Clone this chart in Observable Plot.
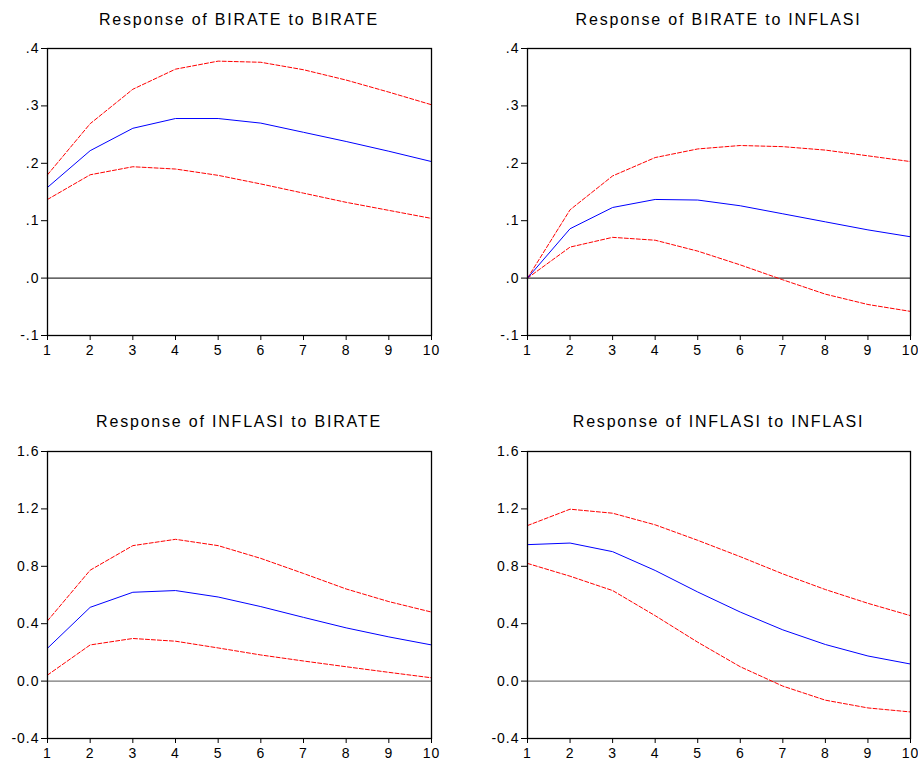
<!DOCTYPE html>
<html><head><meta charset="utf-8">
<script src="https://cdn.jsdelivr.net/npm/d3@7"></script>
<script src="https://cdn.jsdelivr.net/npm/@observablehq/plot@0.6"></script>
<style>
body{margin:0;background:#fff;}
#wrap{position:relative;width:918px;height:762px;overflow:hidden;background:#fff;font-family:"Liberation Sans",Arial,sans-serif;}
.panel{position:absolute;width:459px;height:381px;overflow:hidden;}
.panel svg{position:absolute;left:0;top:0;}
.title{position:absolute;font-size:16px;letter-spacing:1.8px;text-align:center;line-height:18px;color:#000;white-space:nowrap;}
svg text{letter-spacing:1px;}
</style></head><body><div id="wrap"></div>
<script>
const steps = [1,2,3,4,5,6,7,8,9,10];
const topTicks = [-0.1,0,0.1,0.2,0.3,0.4];
const topTickLabels = ["-.1",".0",".1",".2",".3",".4"];
const bottomTicks = [-0.4,0,0.4,0.8,1.2,1.6];
const bottomTickLabels = ["-0.4","0.0","0.4","0.8","1.2","1.6"];
const titles = ["Response of BIRATE to BIRATE","Response of BIRATE to INFLASI","Response of INFLASI to BIRATE","Response of INFLASI to INFLASI"];

const birBirResp  = [0.158,0.222,0.261,0.278,0.278,0.270,0.254,0.238,0.221,0.203];
const birBirUpper = [0.180,0.269,0.329,0.364,0.378,0.376,0.363,0.345,0.324,0.302];
const birBirLower = [0.137,0.180,0.194,0.190,0.179,0.164,0.148,0.132,0.118,0.104];

const birInfResp  = [0.000,0.086,0.123,0.137,0.136,0.126,0.112,0.098,0.084,0.072];
const birInfUpper = [0.000,0.119,0.178,0.210,0.225,0.231,0.229,0.223,0.213,0.203];
const birInfLower = [0.000,0.054,0.071,0.066,0.047,0.023,-0.003,-0.028,-0.046,-0.058];

const infBirResp  = [0.229,0.514,0.619,0.631,0.586,0.519,0.444,0.371,0.308,0.252];
const infBirUpper = [0.420,0.773,0.944,0.988,0.944,0.855,0.750,0.642,0.554,0.481];
const infBirLower = [0.042,0.252,0.297,0.278,0.231,0.182,0.140,0.100,0.061,0.023];

const infInfResp  = [0.951,0.962,0.902,0.771,0.621,0.481,0.357,0.255,0.175,0.119];
const infInfUpper = [1.084,1.198,1.170,1.089,0.981,0.867,0.747,0.638,0.542,0.456];
const infInfLower = [0.820,0.731,0.631,0.456,0.271,0.100,-0.035,-0.133,-0.187,-0.215];

const panels = [
  {left:0,   top:0,   mL:47, mR:28, mT:48, mB:46, domain:[-0.1,0.4], ticks:topTicks, labels:topTickLabels, zero:"#000", zeroW:1, resp:birBirResp, upper:birBirUpper, lower:birBirLower, title:titles[0], titleTop:10.7},
  {left:459, top:0,   mL:68, mR:8,  mT:48, mB:46, domain:[-0.1,0.4], ticks:topTicks, labels:topTickLabels, zero:"#000", zeroW:1, resp:birInfResp, upper:birInfUpper, lower:birInfLower, title:titles[1], titleTop:10.7},
  {left:0,   top:381, mL:47, mR:28, mT:70, mB:24, domain:[-0.4,1.6], ticks:bottomTicks, labels:bottomTickLabels, zero:"#777", zeroW:1.3, resp:infBirResp, upper:infBirUpper, lower:infBirLower, title:titles[2], titleTop:31.7},
  {left:459, top:381, mL:68, mR:8,  mT:70, mB:24, domain:[-0.4,1.6], ticks:bottomTicks, labels:bottomTickLabels, zero:"#777", zeroW:1.3, resp:infInfResp, upper:infInfUpper, lower:infInfLower, title:titles[3], titleTop:31.7}
];

const wrap = document.getElementById("wrap");
for (const p of panels) {
  const rows = steps.map((s,i) => ({step:s, resp:p.resp[i], upper:p.upper[i], lower:p.lower[i]}));
  const div = document.createElement("div");
  div.className = "panel";
  div.style.left = p.left + "px";
  div.style.top = p.top + "px";
  const chart = Plot.plot({
    width: 459, height: 381,
    marginLeft: p.mL, marginRight: p.mR, marginTop: p.mT, marginBottom: p.mB,
    x: {domain:[1,10]},
    y: {domain:p.domain},
    style: {fontFamily:'"Liberation Sans", Arial, sans-serif', fontSize:"14px", color:"#000", background:"transparent", overflow:"visible"},
    marks: [
      Plot.ruleY([0], {stroke:p.zero, strokeWidth:p.zeroW}),
      Plot.line(rows, {x:"step", y:"upper", stroke:"#ff0000", strokeWidth:1, strokeDasharray:"4,2"}),
      Plot.line(rows, {x:"step", y:"lower", stroke:"#ff0000", strokeWidth:1, strokeDasharray:"4,2"}),
      Plot.line(rows, {x:"step", y:"resp", stroke:"#0000ff", strokeWidth:1}),
      Plot.frame({stroke:"#000", strokeWidth:1.3}),
      Plot.axisY({ticks:p.ticks, tickFormat:d => p.labels[p.ticks.indexOf(d)], tickSize:6, tickPadding:2, label:null, stroke:"#000", strokeOpacity:1, fontSize:14}),
      Plot.axisX({ticks:steps, tickFormat:d => String(d), tickSize:5, tickPadding:5, label:null, stroke:"#000", strokeOpacity:1, fontSize:14})
    ]
  });
  div.appendChild(chart);
  const t = document.createElement("div");
  t.className = "title";
  t.textContent = p.title;
  t.style.left = p.mL + "px";
  t.style.width = (459 - p.mL - p.mR) + "px";
  t.style.top = p.titleTop + "px";
  div.appendChild(t);
  wrap.appendChild(div);
}
</script></body></html>
